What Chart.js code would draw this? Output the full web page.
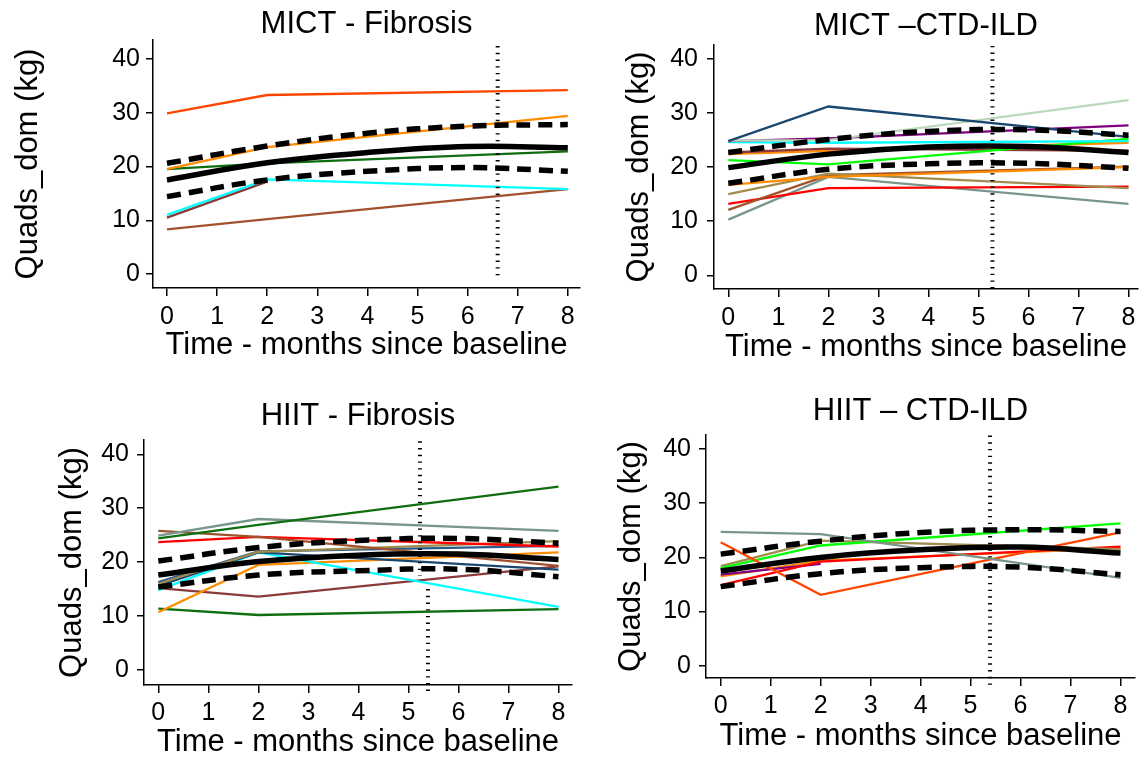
<!DOCTYPE html>
<html><head><meta charset="utf-8">
<script src="https://cdn.jsdelivr.net/npm/chart.js@4.4.1/dist/chart.umd.min.js"></script>
<style>
html,body{margin:0;padding:0;background:#fff;width:1142px;height:758px;overflow:hidden}
canvas{position:absolute}
</style></head><body>
<canvas id="c0" width="590" height="379" style="left:0;top:0"></canvas>
<canvas id="c1" width="552" height="379" style="left:590px;top:0"></canvas>
<canvas id="c2" width="590" height="379" style="left:0;top:379px"></canvas>
<canvas id="c3" width="552" height="379" style="left:590px;top:379px"></canvas>
<script>
// ---------- DATA ----------
const TIME_POINTS = [0, 2, 8];
const FIT_TIMES = [0, 2, 4, 6, 8];
const X_TICKS = [0, 1, 2, 3, 4, 5, 6, 7, 8];
const Y_TICKS = [0, 10, 20, 30, 40];
const PANEL_TITLES = ['MICT - Fibrosis', 'MICT \u2013CTD-ILD', 'HIIT - Fibrosis', 'HIIT \u2013 CTD-ILD'];
const X_TITLE = 'Time - months since baseline';
const Y_TITLE = 'Quads_dom (kg)';

// MICT - Fibrosis
const mictFibSubjects = [
  [29.9, 33.3, 34.2],
  [19.5, 23.6, 29.4],
  [19.5, 20.6, 22.8],
  [11.0, 17.6, 15.8],
  [10.5, 17.2, null],
  [8.3, 10.2, 15.8]
];
const mictFibMean  = [17.5, 20.7, 22.6, 23.7, 23.5];
const mictFibUpper = [20.6, 23.8, 26.2, 27.5, 27.8];
const mictFibLower = [14.4, 17.5, 19.1, 19.8, 19.1];
const mictFibMarker = [[6.6, 42.4, -1.2]];

// MICT - CTD-ILD
const mictCtdSubjects = [
  [24.8, 31.2, 25.6],
  [24.9, 25.0, 32.4],
  [24.8, 25.3, 27.7],
  [24.6, 24.5, 24.8],
  [21.3, 20.5, 25.2],
  [22.7, 23.4, 23.0],
  [22.4, 23.0, 24.5],
  [16.7, 18.2, 20.0],
  [15.0, 18.8, 16.1],
  [12.1, 18.5, 20.1],
  [13.2, 16.1, 16.4],
  [10.3, 18.2, 13.2]
];
const mictCtdMean  = [19.9, 22.4, 23.7, 23.8, 22.7];
const mictCtdUpper = [22.7, 25.1, 26.6, 26.9, 25.9];
const mictCtdLower = [17.0, 19.6, 20.6, 20.7, 19.8];
const mictCtdMarker = [[5.28, 42.4, -2.4]];

// HIIT - Fibrosis
const hiitFibSubjects = [
  [24.4, 26.9, 34.0],
  [24.9, 28.0, 25.8],
  [25.8, 24.7, 19.3],
  [23.7, 24.7, 22.9],
  [16.0, 21.9, 23.9],
  [16.3, 22.0, 23.0],
  [15.6, 21.8, 18.6],
  [14.8, 21.8, 11.7],
  [10.7, 19.5, 21.8],
  [15.2, 13.6, 19.2],
  [11.4, 10.2, 11.3]
];
const hiitFibMean  = [17.6, 20.1, 21.3, 21.5, 20.5];
const hiitFibUpper = [20.2, 22.7, 24.0, 24.4, 23.5];
const hiitFibLower = [15.4, 17.6, 18.4, 18.7, 17.3];
const hiitFibMarker = [[5.23, 42.4, 17.5], [5.39, 15.0, -4.0]];

// HIIT - CTD-ILD
const hiitCtdSubjects = [
  [24.7, 24.3, 16.2],
  [22.8, 13.1, 24.6],
  [18.0, 22.2, 26.3],
  [18.4, 23.1, 21.5],
  [14.9, 19.2, 22.0],
  [16.8, 18.8, null],
  [16.5, 19.4, 21.7]
];
const hiitCtdMean  = [17.5, 20.0, 21.4, 21.9, 20.8];
const hiitCtdUpper = [20.6, 23.0, 24.6, 25.1, 24.8];
const hiitCtdLower = [14.6, 17.0, 18.1, 18.2, 16.8];
const hiitCtdMarker = [[5.39, 42.5, -3.6]];

// ---------- STYLES ----------
const C = {orangered:'#ff4500', orange:'#ff8c00', dkgreen:'#0f6e0f', cyan:'#00ffff', maroon:'#8b3a3a',
  sienna:'#a0522d', navy:'#1a476f', navy2:'#2b5b88', palegreen:'#bcd9bc', purple:'#800080', lime:'#00ff00',
  khaki:'#a08c4e', red:'#ff0000', teal:'#7a968c'};
const mictFibColors = [C.orangered, C.orange, C.dkgreen, C.cyan, C.maroon, C.sienna];
const mictCtdColors = [C.navy, C.palegreen, C.purple, C.cyan, C.lime, C.maroon, C.orange, C.orange, C.khaki, C.sienna, C.red, C.teal];
const hiitFibColors = [C.dkgreen, C.teal, C.sienna, C.red, C.khaki, C.navy2, C.navy, C.cyan, C.orange, C.maroon, C.dkgreen];
const hiitCtdColors = [C.teal, C.orangered, C.lime, C.khaki, C.red, C.purple, C.orange];

const LAYOUTS = [
  {yWidth:153, xHeight:91, padRight:10, titlePad:{top:9,bottom:0}, yTitlePad:13, xTitlePad:18, yTickPad:6, xTickPad:6, x:[-0.279, 8.243], y:[-2.60, 43.53]},
  {yWidth:124, xHeight:90, padRight:4, titlePad:{top:11,bottom:3}, yTitlePad:34, xTitlePad:16, yTickPad:9, xTickPad:6, x:[-0.286, 8.19], y:[-2.53, 42.57]},
  {yWidth:144, xHeight:73, padRight:18, titlePad:{top:22,bottom:8}, yTitlePad:57, xTitlePad:0, yTickPad:8, xTickPad:5, x:[-0.286, 8.27], y:[-2.78, 42.65]},
  {yWidth:116, xHeight:80, padRight:7, titlePad:{top:17,bottom:8}, yTitlePad:26, xTitlePad:6, yTickPad:8, xTickPad:5, x:[-0.294, 8.29], y:[-2.27, 42.6]}
];

const PANELS = [
  {subjects:mictFibSubjects, colors:mictFibColors, mean:mictFibMean, upper:mictFibUpper, lower:mictFibLower, marker:mictFibMarker},
  {subjects:mictCtdSubjects, colors:mictCtdColors, mean:mictCtdMean, upper:mictCtdUpper, lower:mictCtdLower, marker:mictCtdMarker},
  {subjects:hiitFibSubjects, colors:hiitFibColors, mean:hiitFibMean, upper:hiitFibUpper, lower:hiitFibLower, marker:hiitFibMarker},
  {subjects:hiitCtdSubjects, colors:hiitCtdColors, mean:hiitCtdMean, upper:hiitCtdUpper, lower:hiitCtdLower, marker:hiitCtdMarker}
];

Chart.defaults.font.family = "'Liberation Sans', Arial, Helvetica, sans-serif";
Chart.defaults.color = '#000';

function pts(xs, ys) { return xs.map((x, i) => ({x: x, y: ys[i]})); }

PANELS.forEach((p, k) => {
  const L = LAYOUTS[k];
  const datasets = [];
  p.marker.forEach(m => datasets.push({
    data: [{x:m[0], y:m[1]}, {x:m[0], y:m[2]}], borderColor:'#000', borderWidth:4,
    borderDash:[1.4, 5.3], pointRadius:0, tension:0, clip:false, order:0
  }));
  [[p.mean, []], [p.upper, [14, 8]], [p.lower, [14, 8]]].forEach(f => datasets.push({
    data: pts(FIT_TIMES, f[0]), borderColor:'#000', borderWidth:5.5, borderDash:f[1],
    pointRadius:0, tension:0.4, order:0
  }));
  p.subjects.forEach((s, i) => datasets.push({
    data: pts(TIME_POINTS, s), borderColor:p.colors[i], borderWidth:2.3, pointRadius:0,
    tension:0, spanGaps:false, order:1 + i
  }));
  new Chart(document.getElementById('c' + k), {
    type: 'line',
    data: {datasets},
    options: {
      responsive:false, animation:false, devicePixelRatio:1,
      layout:{padding:{left:0, top:0, right:L.padRight, bottom:0}},
      plugins:{
        legend:{display:false}, tooltip:{enabled:false},
        title:{display:true, text:PANEL_TITLES[k], fullSize:false, color:'#000',
          font:{size:31, weight:'normal', lineHeight:1}, padding:L.titlePad}
      },
      scales:{
        x:{type:'linear', min:L.x[0], max:L.x[1],
          afterBuildTicks: s => { s.ticks = X_TICKS.map(v => ({value:v})); },
          afterFit: s => { s.height = L.xHeight; },
          ticks:{font:{size:25}, color:'#000', padding:L.xTickPad, maxRotation:0, autoSkip:false},
          grid:{display:true, drawOnChartArea:false, drawTicks:true, tickLength:8, color:'#000', lineWidth:1.5},
          border:{display:true, color:'#000', width:1.5},
          title:{display:true, text:X_TITLE, color:'#000', font:{size:31, lineHeight:1}, padding:{top:0, bottom:L.xTitlePad}}
        },
        y:{type:'linear', min:L.y[0], max:L.y[1],
          afterBuildTicks: s => { s.ticks = Y_TICKS.map(v => ({value:v})); },
          afterFit: s => { s.width = L.yWidth; },
          ticks:{font:{size:25}, color:'#000', padding:L.yTickPad, autoSkip:false},
          grid:{display:true, drawOnChartArea:false, drawTicks:true, tickLength:7, color:'#000', lineWidth:1.5},
          border:{display:true, color:'#000', width:1.5},
          title:{display:true, text:Y_TITLE, color:'#000', font:{size:31, lineHeight:1}, padding:{top:L.yTitlePad, bottom:0}}
        }
      }
    }
  });
});
</script>
</body></html>
